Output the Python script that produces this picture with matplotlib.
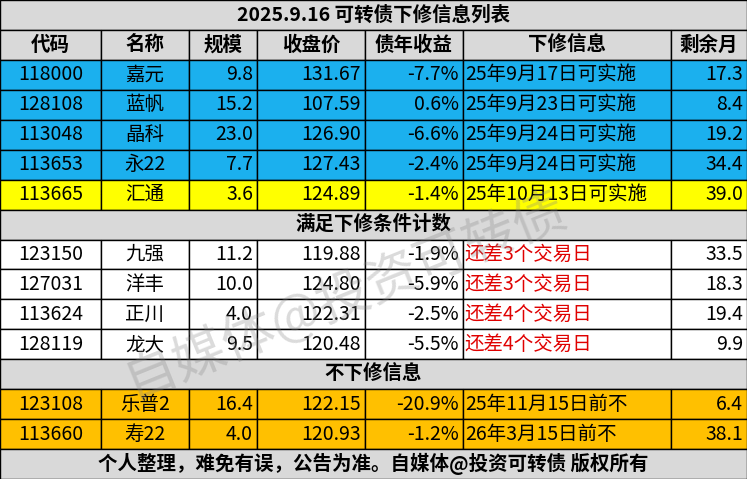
import matplotlib
matplotlib.use("Agg")
import matplotlib.pyplot as plt
from matplotlib.patches import Rectangle

plt.rcParams["font.family"] = "Noto Sans CJK SC"

TITLE = "2025.9.16 可转债下修信息列表"
HEADERS = ["代码", "名称", "规模", "收盘价", "债年收益", "下修信息", "剩余月"]

# group 1: announced downward revisions
G1_CODES = ["118000", "128108", "113048", "113653", "113665"]
G1_NAMES = ["嘉元", "蓝帆", "晶科", "永22", "汇通"]
G1_SIZE = [9.8, 15.2, 23.0, 7.7, 3.6]
G1_PRICE = [131.67, 107.59, 126.90, 127.43, 124.89]
G1_YIELD = [-7.7, 0.6, -6.6, -2.4, -1.4]
G1_INFO = ["25年9月17日可实施", "25年9月23日可实施", "25年9月24日可实施",
           "25年9月24日可实施", "25年10月13日可实施"]
G1_MONTHS = [17.3, 8.4, 19.2, 34.4, 39.0]

G2_TITLE = "满足下修条件计数"
G2_CODES = ["123150", "127031", "113624", "128119"]
G2_NAMES = ["九强", "洋丰", "正川", "龙大"]
G2_SIZE = [11.2, 10.0, 4.0, 9.5]
G2_PRICE = [119.88, 124.80, 122.31, 120.48]
G2_YIELD = [-1.9, -5.9, -2.5, -5.5]
G2_INFO = ["还差3个交易日", "还差3个交易日", "还差4个交易日", "还差4个交易日"]
G2_MONTHS = [33.5, 18.3, 19.4, 9.9]

G3_TITLE = "不下修信息"
G3_CODES = ["123108", "113660"]
G3_NAMES = ["乐普2", "寿22"]
G3_SIZE = [16.4, 4.0]
G3_PRICE = [122.15, 120.93]
G3_YIELD = [-20.9, -1.2]
G3_INFO = ["25年11月15日前不", "26年3月15日前不"]
G3_MONTHS = [6.4, 38.1]

FOOTER = "个人整理，难免有误，公告为准。自媒体@投资可转债 版权所有"

W, H = 747, 479
COLS = [0, 101, 189, 257, 365, 463, 671, 747]
BLUE, YEL, ORA, GRAY = "#1bb0ee", "#ffff00", "#ffc000", "#d9d9d9"

fig = plt.figure(figsize=(W / 100, H / 100), dpi=100)
ax = fig.add_axes([0, 0, 1, 1])
ax.set_xlim(0, W)
ax.set_ylim(H, 0)
ax.axis("off")

rh = H / 16.0
FS = 14


def full_row(i, text, color, bold=True):
    y = i * rh
    ax.add_patch(Rectangle((0, y), W, rh, facecolor=color, edgecolor="black", lw=1))
    ax.text(W / 2, y + rh / 2, text, ha="center", va="center", fontsize=FS,
            fontweight="bold" if bold else "normal")


def data_row(i, cells, color, info_color="black"):
    y = i * rh
    aligns = ["center", "center", "right", "right", "right", "left", "right"]
    for j, txt in enumerate(cells):
        x0, x1 = COLS[j], COLS[j + 1]
        ax.add_patch(Rectangle((x0, y), x1 - x0, rh, facecolor=color,
                               edgecolor="black", lw=1))
        if aligns[j] == "center":
            tx = (x0 + x1) / 2
        elif aligns[j] == "right":
            tx = x1 - 4
        else:
            tx = x0 + 2
        ax.text(tx, y + rh / 2, txt, ha=aligns[j], va="center", fontsize=FS,
                color=info_color if j == 5 else "black")


full_row(0, TITLE, GRAY)
for j, h in enumerate(HEADERS):
    x0, x1 = COLS[j], COLS[j + 1]
    ax.add_patch(Rectangle((x0, rh), x1 - x0, rh, facecolor=GRAY, edgecolor="black", lw=1))
    ax.text((x0 + x1) / 2, rh * 1.5, h, ha="center", va="center", fontsize=FS,
            fontweight="bold")


def cells(c, n, s, p, y, inf, m):
    return [c, n, f"{s:.1f}", f"{p:.2f}", f"{y:.1f}%", inf, f"{m:.1f}"]


row = 2
for k in range(len(G1_CODES)):
    col = YEL if k == len(G1_CODES) - 1 else BLUE
    data_row(row, cells(G1_CODES[k], G1_NAMES[k], G1_SIZE[k], G1_PRICE[k],
                        G1_YIELD[k], G1_INFO[k], G1_MONTHS[k]), col)
    row += 1
full_row(row, G2_TITLE, GRAY)
row += 1
for k in range(len(G2_CODES)):
    data_row(row, cells(G2_CODES[k], G2_NAMES[k], G2_SIZE[k], G2_PRICE[k],
                        G2_YIELD[k], G2_INFO[k], G2_MONTHS[k]), "white", "#e00000")
    row += 1
full_row(row, G3_TITLE, GRAY)
row += 1
for k in range(len(G3_CODES)):
    data_row(row, cells(G3_CODES[k], G3_NAMES[k], G3_SIZE[k], G3_PRICE[k],
                        G3_YIELD[k], G3_INFO[k], G3_MONTHS[k]), ORA)
    row += 1
full_row(row, FOOTER, GRAY)

# watermark
ax.text(345, 295, "自媒体@投资可转债", fontsize=38, color="#888888", alpha=0.3,
        rotation=22, ha="center", va="center")

fig.savefig("out.png", dpi=100)
